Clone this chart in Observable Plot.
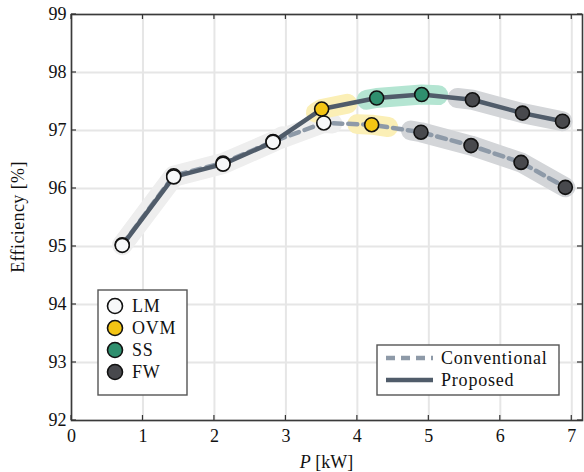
<!DOCTYPE html>
<html><head><meta charset="utf-8">
<script src="https://cdn.jsdelivr.net/npm/d3@7"></script>
<script src="https://cdn.jsdelivr.net/npm/@observablehq/plot@0.6"></script>
<style>body{margin:0;background:#fff;}#chart svg, #chart svg text{font-family:"Liberation Serif","DejaVu Serif",serif !important;}</style>
</head><body><div id="chart"></div>
<script>
// ---- data ----
const modes = ["LM", "OVM", "SS", "FW"];
const modeFill = ["#f7f8f9", "#f4c514", "#2f8f6e", "#48494d"];
const bandFill = ["#eeeeee", "#fbefb6", "#b4e5d2", "#d3d5d8"];

const seriesNames = ["Conventional", "Proposed"];

const convP   = [0.71, 1.43, 2.12, 2.82, 3.53, 4.20, 4.89, 5.59, 6.29, 6.91];
const convEff = [95.03, 96.22, 96.44, 96.81, 97.13, 97.10, 96.97, 96.74, 96.45, 96.02];
const convMode = ["LM", "LM", "LM", "LM", "LM", "OVM", "FW", "FW", "FW", "FW"];

const propP   = [0.71, 1.43, 2.12, 2.82, 3.50, 4.27, 4.90, 5.61, 6.31, 6.87];
const propEff = [95.02, 96.20, 96.42, 96.80, 97.37, 97.56, 97.62, 97.53, 97.30, 97.16];
const propMode = ["LM", "LM", "LM", "LM", "OVM", "SS", "SS", "FW", "FW", "FW"];

// highlight bands: series, mode, start and end
const bandSeries = ["Conventional", "Proposed", "Proposed", "Conventional", "Proposed", "Proposed", "Conventional"];
const bandMode   = ["LM", "LM", "OVM", "OVM", "SS", "FW", "FW"];
const bandStartP   = [0.71, 0.71, 3.42, 4.00, 4.13, 5.40, 4.75];
const bandStartEff = [95.03, 95.02, 97.31, 97.11, 97.53, 97.56, 97.00];
const bandEndP     = [3.65, 2.95, 3.86, 4.43, 5.13, 6.87, 6.91];
const bandEndEff   = [97.12, 96.90, 97.46, 97.06, 97.61, 97.16, 96.02];

const xTicks = [0, 1, 2, 3, 4, 5, 6, 7];
const yTicks = [92, 93, 94, 95, 96, 97, 98, 99];

// ---- build tables ----
const mk = (P, E, M, s) => P.map((p, i) => ({p, eff: E[i], mode: M[i], series: s}));
const conv = mk(convP, convEff, convMode, "Conventional");
const prop = mk(propP, propEff, propMode, "Proposed");
const bands = [];
bandSeries.forEach((s, i) => {
  const src = s === "Conventional" ? conv : prop;
  const color = bandFill[modes.indexOf(bandMode[i])];
  const pts = [{p: bandStartP[i], eff: bandStartEff[i]},
    ...src.filter(d => d.mode === bandMode[i] && d.p > bandStartP[i] && d.p < bandEndP[i]),
    {p: bandEndP[i], eff: bandEndEff[i]}];
  pts.forEach(d => bands.push({p: d.p, eff: d.eff, band: i, color}));
});
const fillOf = d => modeFill[modes.indexOf(d.mode)];

const W = 584, H = 472, mL = 71, mR = 2, mT = 14, mB = 52;
const convColor = "#8e9aa8", propColor = "#505c6a";
const FONT = "Liberation Serif, DejaVu Serif, serif";

const plot = Plot.plot({
  width: W, height: H,
  marginLeft: mL, marginRight: mR, marginTop: mT, marginBottom: mB,
  style: {fontFamily: FONT, fontSize: "18px", color: "#111", background: "#fff"},
  x: {domain: [0, 7.15]},
  y: {domain: [92, 99]},
  color: {type: "identity"},
  marks: [
    Plot.gridX(xTicks, {stroke: "#e6e6e6", strokeOpacity: 1, strokeWidth: 2}),
    Plot.gridY(yTicks, {stroke: "#e6e6e6", strokeOpacity: 1, strokeWidth: 2}),
    Plot.line(bands, {x: "p", y: "eff", z: "band", stroke: "color", strokeWidth: 20, strokeLinecap: "round", strokeLinejoin: "round"}),
    Plot.line(conv, {x: "p", y: "eff", stroke: convColor, strokeWidth: 4.5, strokeDasharray: "9,6"}),
    Plot.line(prop, {x: "p", y: "eff", stroke: propColor, strokeWidth: 4.5}),
    Plot.dot(conv, {x: "p", y: "eff", r: 7, fill: fillOf, stroke: "#111", strokeWidth: 1.6}),
    Plot.dot(prop, {x: "p", y: "eff", r: 7, fill: fillOf, stroke: "#111", strokeWidth: 1.6}),
    Plot.axisX(xTicks, {anchor: "bottom", tickSize: 0, tickPadding: 9, label: null, fontSize: 18, tickFormat: d => String(d)}),
    Plot.axisY(yTicks, {anchor: "left", tickSize: 0, tickPadding: 5, label: null, fontSize: 18, tickFormat: d => String(d)}),
    Plot.frame({stroke: "#3a3a3a", strokeWidth: 1.6})
  ]
});
document.getElementById("chart").appendChild(plot);

// inward tick marks on all four sides
const svg = d3.select(plot);
svg.selectAll("text").attr("font-family", FONT);
const xs = plot.scale("x"), ys = plot.scale("y");
const tg = svg.append("g").attr("stroke", "#333").attr("stroke-width", 1.2);
xTicks.forEach(t => {
  const x = xs.apply(t);
  tg.append("line").attr("x1", x).attr("x2", x).attr("y1", H - mB).attr("y2", H - mB - 5);
  tg.append("line").attr("x1", x).attr("x2", x).attr("y1", mT).attr("y2", mT + 5);
});
yTicks.forEach(t => {
  const y = ys.apply(t);
  tg.append("line").attr("y1", y).attr("y2", y).attr("x1", mL).attr("x2", mL + 5);
  tg.append("line").attr("y1", y).attr("y2", y).attr("x1", W - mR).attr("x2", W - mR - 5);
});

// axis titles
const xt = svg.append("text").attr("x", (mL + W - mR) / 2).attr("y", H - 4)
  .attr("text-anchor", "middle").attr("font-size", 18).attr("font-family", FONT).attr("fill", "#111");
xt.append("tspan").attr("font-style", "italic").text("P");
xt.append("tspan").text(" [kW]");
svg.append("text").attr("transform", `translate(24,${(mT + H - mB) / 2}) rotate(-90)`)
  .attr("text-anchor", "middle").attr("font-size", 18).attr("font-family", FONT)
  .attr("letter-spacing", 0.4).attr("fill", "#111").text("Efficiency [%]");

// mode legend
const lg1 = svg.append("g").attr("text-anchor", "start");
lg1.append("rect").attr("x", 98).attr("y", 290).attr("width", 89).attr("height", 105)
  .attr("fill", "#fff").attr("stroke", "#555").attr("stroke-width", 1.4);
modes.forEach((m, i) => {
  const cy = 306 + i * 22;
  lg1.append("circle").attr("cx", 115).attr("cy", cy).attr("r", 7.5)
    .attr("fill", modeFill[i]).attr("stroke", "#111").attr("stroke-width", 1.6);
  lg1.append("text").attr("x", 132).attr("y", cy).attr("dy", "0.35em").attr("text-anchor", "start")
    .attr("font-size", 18).attr("font-family", FONT).attr("letter-spacing", 0.8).attr("fill", "#111").text(m);
});

// series legend
const lg2 = svg.append("g").attr("text-anchor", "start");
lg2.append("rect").attr("x", 377).attr("y", 345).attr("width", 182).attr("height", 50)
  .attr("fill", "#fff").attr("stroke", "#555").attr("stroke-width", 1.4);
seriesNames.forEach((s, i) => {
  const cy = 358 + i * 22;
  lg2.append("line").attr("x1", 386).attr("x2", 433).attr("y1", cy).attr("y2", cy)
    .attr("stroke", i === 0 ? convColor : propColor).attr("stroke-width", 4.5)
    .attr("stroke-dasharray", i === 0 ? "9,6" : null);
  lg2.append("text").attr("x", 441).attr("y", cy).attr("dy", "0.35em").attr("text-anchor", "start")
    .attr("font-size", 18).attr("font-family", FONT).attr("letter-spacing", 0.8).attr("fill", "#111").text(s);
});
</script>
</body></html>
